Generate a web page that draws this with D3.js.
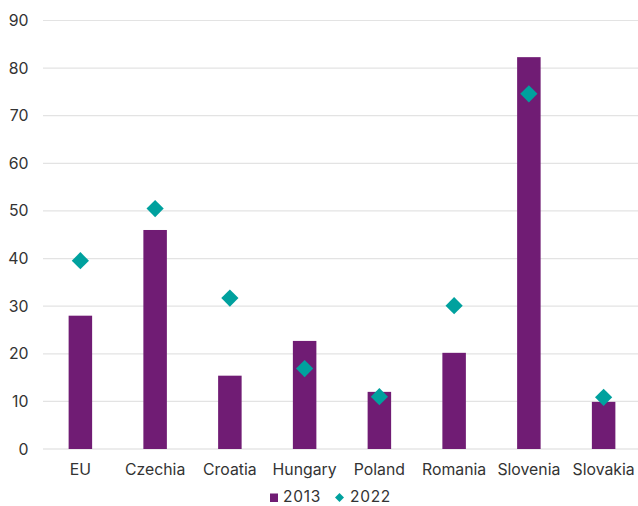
<!DOCTYPE html>
<html><head><meta charset="utf-8">
<script src="https://cdn.jsdelivr.net/npm/d3@7"></script>
<style>body{margin:0;background:#fff}svg{display:block;font-family:Inter,sans-serif}</style>
</head><body>
<script>
const categories = ["EU","Czechia","Croatia","Hungary","Poland","Romania","Slovenia","Slovakia"];
const values2013 = [28.0,46.0,15.4,22.7,12.0,20.2,82.3,9.9];
const values2022 = [39.55,50.5,31.7,16.9,11.0,30.1,74.6,10.85];
const yTicks = [0,10,20,30,40,50,60,70,80,90];
const seriesNames = ["2013","2022"];

const W=638,H=506;
const svg=d3.select("body").append("svg").attr("width",W).attr("height",H);
const x=d3.scaleBand().domain(categories).range([43,641]).padding(0);
const y=d3.scaleLinear().domain([0,90]).range([449,20.5]);

svg.append("g").selectAll("line").data(yTicks).join("line")
 .attr("x1",43).attr("x2",638).attr("y1",d=>y(d)).attr("y2",d=>y(d))
 .attr("stroke",d=>d===0?"#d9d9d9":"#e3e3e3").attr("stroke-width",1.2);

svg.append("g").selectAll("text").data(yTicks).join("text")
 .attr("x",28.5).attr("y",d=>y(d)).attr("dy","0.35em").attr("text-anchor","end")
 .attr("font-size",15.8).attr("fill","#333").text(d=>d);

const bw=23.5;
svg.append("g").selectAll("rect").data(values2013).join("rect")
 .attr("x",(d,i)=>x(categories[i])+x.bandwidth()/2-bw/2).attr("width",bw)
 .attr("y",d=>y(d)).attr("height",d=>y(0)-y(d)).attr("fill","#701c74");

const ds=8.6;
svg.append("g").selectAll("path").data(values2022).join("path")
 .attr("transform",(d,i)=>`translate(${x(categories[i])+x.bandwidth()/2},${y(d)})`)
 .attr("d",`M0,${-ds}L${ds},0L0,${ds}L${-ds},0Z`).attr("fill","#00a19e");

svg.append("g").selectAll("text").data(categories).join("text")
 .attr("x",d=>x(d)+x.bandwidth()/2).attr("y",469.5).attr("dy","0.35em")
 .attr("text-anchor","middle").attr("font-size",15.8).attr("fill","#333").text(d=>d);

const lg=svg.append("g");
lg.append("rect").attr("x",270).attr("y",493.5).attr("width",8).attr("height",8.5).attr("fill","#701c74");
lg.append("text").attr("x",283).attr("y",496.8).attr("dy","0.35em").attr("font-size",15.5).attr("letter-spacing",0.7).attr("fill","#333").text(seriesNames[0]);
lg.append("path").attr("transform","translate(339.5,497.5)").attr("d","M0,-4.5L4.5,0L0,4.5L-4.5,0Z").attr("fill","#00a19e");
lg.append("text").attr("x",350).attr("y",496.8).attr("dy","0.35em").attr("font-size",15.5).attr("letter-spacing",0.7).attr("fill","#333").text(seriesNames[1]);
</script>
</body></html>
